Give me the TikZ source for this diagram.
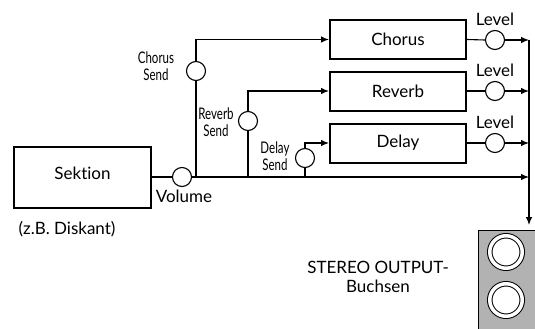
\documentclass[tikz,border=0pt]{standalone}
\usepackage{fontspec}
\setmainfont{Lato}[Ligatures=NoCommon]
\newfontfamily\narrowfont[FakeStretch=0.72]{Lato}
\usetikzlibrary{arrows.meta,positioning}

\begin{document}
\begin{tikzpicture}[
  x=1pt, y=-1pt,
  font=\fontsize{17}{19}\selectfont,
  every node/.style={inner sep=2pt},
  blk/.style={draw, line width=2pt, minimum width=136pt, minimum height=39pt,
              inner sep=0pt},
  knob/.style={draw, circle, line width=1.1pt, fill=white, minimum size=19pt,
               inner sep=0pt},
  ln/.style={line width=1.1pt},
  ar/.style={ln, -{Latex[length=8pt,width=6.5pt]}},
  send/.style={font=\narrowfont\fontsize{16}{16.5}\selectfont, align=center,
               inner sep=0pt},
  jack/.style={circle, draw, fill=white, line width=1pt, double=white,
               double distance=3.5pt, minimum size=32.5pt, inner sep=0pt},
  panel/.style={draw, fill=black!30, line width=1pt, anchor=north west,
                minimum width=70pt, minimum height=110pt},
]
\useasboundingbox (0,0) rectangle (535,329);

% =============================================================== input
\node[blk, minimum width=137pt, minimum height=61pt,
      label={[yshift=4pt]center:Sektion}] (sek) at (82.5,177) {};
\node (sekname) at (67,229) {(z.B.\ Diskant)};

\node[knob] (vol) at (182,177) {};
\node[below=1pt of vol, xshift=2pt] (vollbl) {Volume};

% =============================================================== sends
\node[knob] (cs) at (196,71) {};
\node[knob] (rs) at (248,121) {};
\node[knob] (ds) at (305,158) {};

\node[send] (cslbl) at (156,66) {Chorus\\Send};
\node[send] (rslbl) at (216,122) {Reverb\\Send};
\node[send] (dslbl) at (275,156) {Delay\\Send};

% =============================================================== effects
\node[blk] (chorus) at (398,39.5) {Chorus};
\node[blk] (reverb) at (398,91) {Reverb};
\node[blk] (delay) at (398,143) {Delay};

\node[knob] (lc) at (495,40) {};
\node[knob] (lr) at (495,91) {};
\node[knob] (ld) at (495,143) {};
\foreach \k in {lc, lr, ld}
  \node[above=2pt of \k] {Level};

% --- output bus ---
\coordinate (bustop) at (529,40);
\coordinate (busend) at (529,225);
\coordinate (mainend) at (529,177);

% =============================================================== outputs
\node[panel] (jacks) at (478,230) {};
\node[jack] (jl) at (506,252) {};
\node[jack] (jr) at (506,300) {};
\node[align=center] (outlbl) at (378,277) {STEREO OUTPUT-\\Buchsen};

% =============================================================== wiring
\draw[ln] (sek.east) -- (vol.west);
\draw[ar] (vol.east) -- (mainend);

\foreach \s/\b in {cs/chorus, rs/reverb, ds/delay} {
  \draw[ln] (\s.south) -- (\s.south |- vol);
  \draw[ar] (\s.north) |- (\b.west);
}

\foreach \b/\k in {chorus/lc, reverb/lr, delay/ld} {
  \draw[ln] (\b.east) -- (\k.west);
  \draw[ar] (\k.east) -- (\k.east -| bustop);
}

\draw[ar] (bustop) -- (busend);

\end{tikzpicture}
\end{document}
